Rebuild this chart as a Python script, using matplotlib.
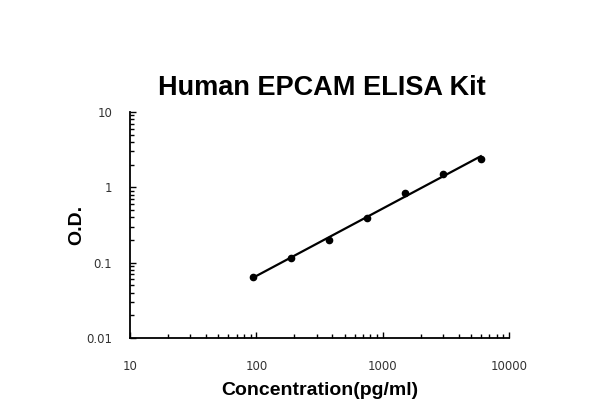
import matplotlib
matplotlib.use('Agg')
import matplotlib.pyplot as plt
import numpy as np

# Standard curve data
conc = [93.75, 187.5, 375, 750, 1500, 3000, 6000]  # pg/ml
od = [0.065, 0.115, 0.20, 0.39, 0.85, 1.50, 2.35]

# Power fit (straight line in log-log)
slope, intercept = np.polyfit(np.log10(conc), np.log10(od), 1)
fit_x = np.array([conc[0], conc[-1]])
fit_y = 10 ** (intercept + slope * np.log10(fit_x))

fig = plt.figure(figsize=(6, 4), dpi=100)
ax = fig.add_axes([0.217, 0.155, 0.631, 0.565])

ax.plot(fit_x, fit_y, color='black', linewidth=1.6)
ax.plot(conc, od, 'o', color='black', markersize=4.5)

ax.set_xscale('log')
ax.set_yscale('log')
ax.set_xlim(10, 10000)
ax.set_ylim(0.01, 10)
ax.set_xticks([10, 100, 1000, 10000])
ax.set_xticklabels(['10', '100', '1000', '10000'])
ax.set_yticks([0.01, 0.1, 1, 10])
ax.set_yticklabels(['0.01', '0.1', '1', '10'])

ax.spines['top'].set_visible(False)
ax.spines['right'].set_visible(False)
ax.spines['left'].set_linewidth(1.3)
ax.spines['bottom'].set_linewidth(1.3)
ax.tick_params(which='both', direction='in', labelsize=8.5, width=1,
               labelcolor='#333333')
ax.tick_params(which='major', length=4)
ax.tick_params(axis='x', which='major', pad=16)
ax.tick_params(axis='y', which='major', pad=13)
ax.tick_params(which='minor', length=3)

lab_font = dict(family='Liberation Sans', fontsize=14, fontweight='bold')
ax.set_xlabel('Concentration(pg/ml)', labelpad=6, **lab_font)
ax.set_ylabel('O.D.', labelpad=1, **lab_font)
fig.text(0.537, 0.78, 'Human EPCAM ELISA Kit', ha='center', va='center',
         family='Liberation Sans', fontsize=19.5, fontweight='bold')

fig.savefig('out.png', dpi=100)
